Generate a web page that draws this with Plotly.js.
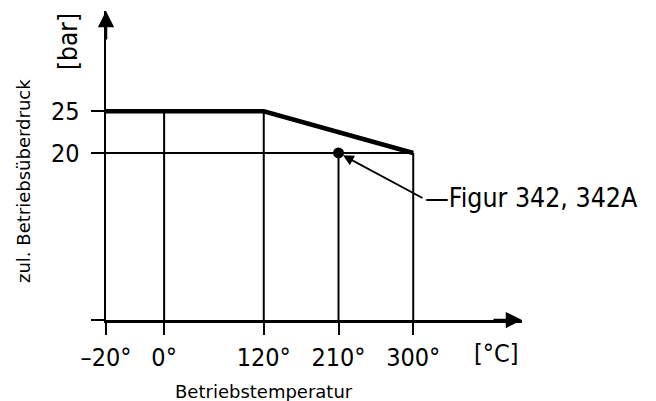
<!DOCTYPE html>
<html>
<head>
<meta charset="utf-8">
<script src="https://cdn.plot.ly/plotly-3.0.1.min.js"></script>
<style>html,body{margin:0;padding:0;background:#fff;}#chart{width:656px;height:401px;}</style>
</head>
<body>
<div id="chart"></div>
<script>
// ---- data ----
const ratingTemps = [-20, 120, 300];        // °C
const ratingPress = [25, 25, 20];           // bar
const refTemps = [0, 120, 210, 300];        // vertical reference lines (°C)
const refPress = [25, 25, 20, 20];          // their upper ends (bar)
const limitPress = 20;                      // horizontal reference line (bar)
const pointTemp = [210];
const pointPress = [20];
const xTickTemps = [-20, 0, 120, 210, 300];
const xTickLabels = ['–20°', '0°', '120°', '210°', '300°'];
const yTickVals = [0, 20, 25];
const yTickLabels = ['', '20', '25'];
const pointLabel = 'Figur 342, 342A';

// The drawing uses a broken temperature axis: the segment below 0 °C is stretched.
function axisPos(t) { return t < 0 ? t * 3.5 : t; }

const FONT = '"DejaVu Sans Condensed", "Liberation Sans Narrow", "DejaVu Sans", sans-serif';
const FONT_R = '"DejaVu Sans", sans-serif';
const BLACK = '#000';

// vertical reference lines
const vx = [], vy = [];
refTemps.forEach((t, i) => { vx.push(axisPos(t), axisPos(t), null); vy.push(0, refPress[i], null); });

const xMin = axisPos(xTickTemps[0]);
const xMax = 431;
const yMax = 37;

const traces = [
  { x: vx, y: vy, mode: 'lines', line: {color: BLACK, width: 2}, hoverinfo: 'skip', showlegend: false },
  { x: [axisPos(xTickTemps[0]), axisPos(ratingTemps[ratingTemps.length-1])], y: [limitPress, limitPress],
    mode: 'lines', line: {color: BLACK, width: 2}, showlegend: false },
  { x: ratingTemps.map(axisPos), y: ratingPress, mode: 'lines',
    line: {color: BLACK, width: 4.5}, showlegend: false, cliponaxis: false },
  { x: pointTemp.map(axisPos), y: pointPress, mode: 'markers',
    marker: {color: BLACK, size: 11}, showlegend: false, cliponaxis: false }
];

const layout = {
  width: 656, height: 401,
  margin: {l: 106, r: 134, t: 11, b: 81},
  paper_bgcolor: '#fff', plot_bgcolor: '#fff',
  font: {family: FONT, color: BLACK, size: 25},
  showlegend: false,
  xaxis: {
    range: [xMin, xMax], showgrid: false, zeroline: false,
    showline: true, linecolor: BLACK, linewidth: 2.5,
    tickmode: 'array', tickvals: xTickTemps.map(axisPos), ticktext: xTickLabels,
    ticks: 'outside', ticklen: 12, tickwidth: 2, tickcolor: BLACK,
    tickfont: {family: FONT, size: 25, color: BLACK}, ticklabelstandoff: 1
  },
  yaxis: {
    range: [0, yMax], showgrid: false, zeroline: false,
    showline: true, linecolor: BLACK, linewidth: 2.5,
    tickmode: 'array', tickvals: yTickVals, ticktext: yTickLabels,
    ticks: 'outside', ticklen: 13, tickwidth: 2, tickcolor: BLACK,
    tickfont: {family: FONT, size: 25, color: BLACK}, ticklabelstandoff: 6
  },
  annotations: [
    // axis arrowheads
    { x: xMax, y: 0, xref: 'x', yref: 'y', ax: -30, ay: 0, text: '', showarrow: true,
      arrowhead: 2, arrowsize: 1.3, arrowwidth: 2.5, arrowcolor: BLACK },
    { x: xMin, y: yMax, xref: 'x', yref: 'y', ax: 0, ay: 30, text: '', showarrow: true,
      arrowhead: 2, arrowsize: 1.3, arrowwidth: 2.5, arrowcolor: BLACK },
    // pointer to the marked point
    { x: axisPos(pointTemp[0]), y: pointPress[0], xref: 'x', yref: 'y', ax: 84, ay: 45,
      text: '—' + pointLabel, xanchor: 'left', yanchor: 'middle', showarrow: true,
      arrowhead: 2, arrowsize: 1.2, arrowwidth: 1.8, arrowcolor: BLACK, standoff: 5,
      font: {family: FONT, size: 26.5, color: BLACK} },
    // unit labels
    { x: -0.091, y: 0.90, xref: 'paper', yref: 'paper', text: '[bar]', textangle: -90,
      xanchor: 'center', yanchor: 'middle',
      showarrow: false, font: {family: FONT, size: 26, color: BLACK} },
    { x: 0.9375, y: -0.11, xref: 'paper', yref: 'paper', text: '[°C]',
      xanchor: 'center', yanchor: 'middle',
      showarrow: false, font: {family: FONT, size: 25, color: BLACK} },
    // axis titles
    { x: 0.38, y: -0.23, xref: 'paper', yref: 'paper', text: 'Betriebstemperatur',
      xanchor: 'center', yanchor: 'middle',
      showarrow: false, font: {family: FONT_R, size: 18, color: BLACK} },
    { x: -0.197, y: 0.45, xref: 'paper', yref: 'paper', text: 'zul. Betriebsüberdruck', textangle: -90,
      xanchor: 'center', yanchor: 'middle',
      showarrow: false, font: {family: FONT_R, size: 18, color: BLACK} }
  ]
};

Plotly.newPlot('chart', traces, layout, {staticPlot: true, displayModeBar: false});
</script>
</body>
</html>
